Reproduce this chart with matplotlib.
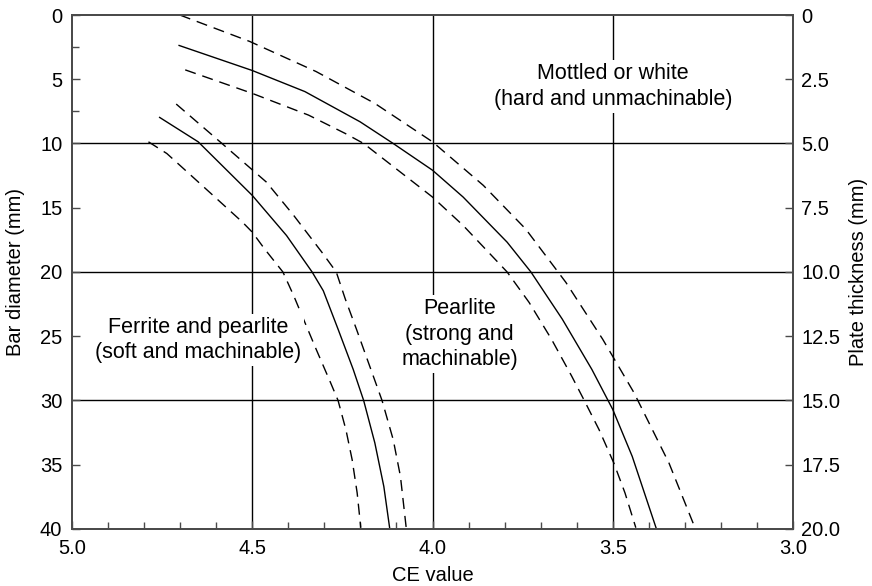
import matplotlib.pyplot as plt
from matplotlib.ticker import FixedLocator, MultipleLocator

plt.rcParams['font.family'] = ['Liberation Sans', 'DejaVu Sans']

# curves: CE value vs bar diameter (mm)
# upper band (pearlite / mottled boundary)
hi_mid_ce = [4.703, 4.50, 4.354, 4.201, 4.109, 4.00, 3.915, 3.793, 3.727,
             3.640, 3.558, 3.50, 3.446, 3.380]
hi_mid_mm = [2.37, 4.32, 5.96, 8.31, 10.0, 12.08, 14.17, 17.68, 20.0,
             23.67, 27.58, 30.7, 34.35, 39.9]
hi_up_ce = [4.701, 4.507, 4.323, 4.160, 4.00, 3.859, 3.742, 3.630, 3.528,
            3.441, 3.344, 3.272]
hi_up_mm = [0.0, 2.06, 4.40, 6.88, 9.87, 13.26, 16.64, 20.81, 25.23,
            29.4, 34.87, 39.9]
hi_lo_ce = [4.686, 4.50, 4.344, 4.242, 4.191, 4.00, 3.915, 3.793,
            3.732, 3.670, 3.614, 3.579, 3.538, 3.497, 3.466, 3.436]
hi_lo_mm = [4.27, 6.1, 7.79, 9.22, 10.0, 14.17, 16.38, 20.0,
            22.37, 25.23, 28.1, 30.0, 32.27, 34.87, 37.2, 39.9]

# lower band (ferrite / pearlite boundary)
lo_mid_ce = [4.757, 4.65, 4.50, 4.405, 4.334, 4.303, 4.262, 4.220, 4.191,
             4.160, 4.135, 4.119]
lo_mid_mm = [7.97, 9.87, 14.04, 17.16, 20.0, 21.46, 24.45, 27.58, 30.0,
             33.3, 36.7, 39.9]
lo_up_ce = [4.711, 4.584, 4.461, 4.385, 4.307, 4.267, 4.242, 4.211, 4.181,
            4.140, 4.109, 4.089, 4.073]
lo_up_mm = [6.93, 10.0, 13.0, 15.6, 18.46, 20.0, 22.1, 24.45, 26.8,
            30.0, 33.05, 35.9, 39.9]
lo_lo_ce = [4.788, 4.737, 4.681, 4.630, 4.579, 4.528, 4.50, 4.466, 4.415,
            4.385, 4.354, 4.323, 4.283, 4.262, 4.240, 4.223, 4.209, 4.199]
lo_lo_mm = [9.87, 10.78, 12.2, 13.5, 14.8, 16.1, 16.9, 18.2, 20.0,
            21.85, 23.93, 26.0, 28.6, 30.0, 32.3, 34.6, 37.2, 39.9]

grid_ce = [4.5, 4.0, 3.5]
grid_mm = [10, 20, 30]

x_ticks = [5.0, 4.5, 4.0, 3.5, 3.0]
y_ticks = [0, 5, 10, 15, 20, 25, 30, 35, 40]
plate_ticks = [0, 2.5, 5.0, 7.5, 10.0, 12.5, 15.0, 17.5, 20.0]
plate_labels = ['0', '2.5', '5.0', '7.5', '10.0', '12.5', '15.0', '17.5', '20.0']

spine_col = '#4a4a4a'
fs = 14.5
fs_note = 15.5

fig = plt.figure(figsize=(8.72, 5.86), dpi=100)
ax = fig.add_axes([0.0826, 0.0973, 0.8268, 0.8771])
ax.set_xlim(5.0, 3.0)
ax.set_ylim(40, 0)

for c in grid_ce:
    ax.axvline(c, color='black', lw=1.0, zorder=1)
for m in grid_mm:
    ax.axhline(m, color='black', lw=1.0, zorder=1)

dash = (8, 5)
ax.plot(hi_mid_ce, hi_mid_mm, color='black', lw=1.0, zorder=2)
ax.plot(hi_up_ce, hi_up_mm, color='black', lw=1.0, dashes=dash, zorder=2)
ax.plot(hi_lo_ce, hi_lo_mm, color='black', lw=1.0, dashes=dash, zorder=2)
ax.plot(lo_mid_ce, lo_mid_mm, color='black', lw=1.0, zorder=2)
ax.plot(lo_up_ce, lo_up_mm, color='black', lw=1.0, dashes=dash, zorder=2)
ax.plot(lo_lo_ce, lo_lo_mm, color='black', lw=1.0, dashes=dash, zorder=2)

box = dict(facecolor='white', edgecolor='none', pad=2)
ax.text(3.5, 5.57, 'Mottled or white\n(hard and unmachinable)', ha='center',
        va='center', fontsize=fs_note, linespacing=1.3, bbox=box, zorder=3)
ax.text(4.65, 25.3, 'Ferrite and pearlite\n(soft and machinable)', ha='center',
        va='center', fontsize=fs_note, linespacing=1.3, bbox=box, zorder=3)
ax.text(3.925, 24.84, 'Pearlite\n(strong and\nmachinable)', ha='center',
        va='center', fontsize=fs_note, linespacing=1.3, bbox=box, zorder=3)

ax.set_xticks(x_ticks)
ax.set_xticklabels(['%.1f' % v for v in x_ticks])
ax.xaxis.set_minor_locator(MultipleLocator(0.1))
ax.set_yticks(y_ticks)
ax.set_yticklabels([str(v) for v in y_ticks])
ax.yaxis.set_minor_locator(FixedLocator([2.5, 7.5]))
ax.tick_params(axis='both', which='both', direction='in', colors=spine_col,
               labelcolor='black', labelsize=fs, width=1.0)
ax.tick_params(axis='both', which='major', length=6)
ax.tick_params(axis='both', which='minor', length=5)
ax.tick_params(axis='x', pad=7)
ax.tick_params(axis='y', pad=7)
ax.set_xlabel('CE value', fontsize=fs, labelpad=6)
ax.set_ylabel('Bar diameter (mm)', fontsize=fs, labelpad=11)

ax2 = ax.twinx()
ax2.set_ylim(20, 0)
ax2.set_yticks(plate_ticks)
ax2.set_yticklabels(plate_labels)
ax2.tick_params(axis='y', direction='in', length=6, pad=6, colors=spine_col,
                labelcolor='black', labelsize=fs, width=1.0)
ax2.set_ylabel('Plate thickness (mm)', fontsize=fs, labelpad=6)

for a in (ax, ax2):
    for s in a.spines.values():
        s.set_color(spine_col)
        s.set_linewidth(1.3)

fig.savefig('out.png', dpi=100)
